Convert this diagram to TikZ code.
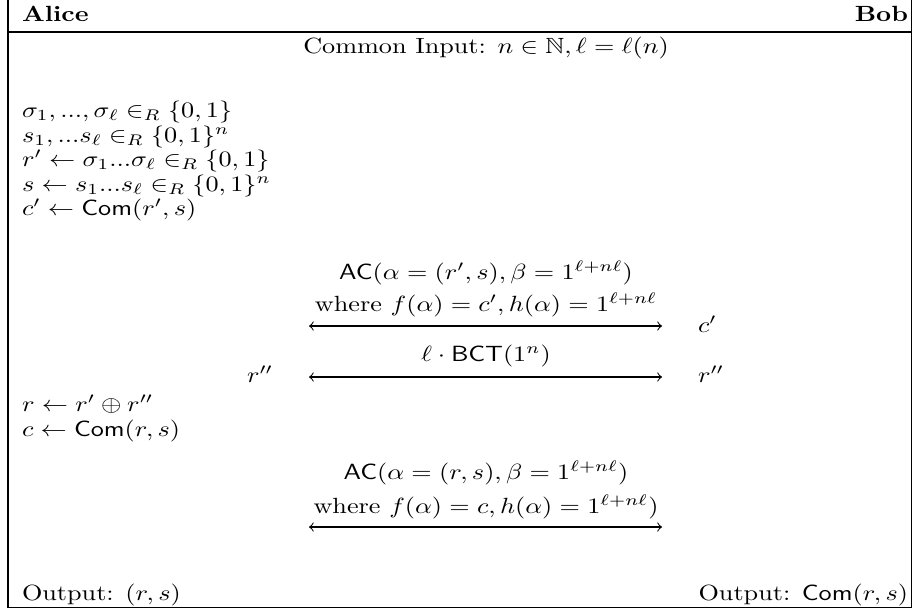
\documentclass[tikz,border=0pt]{standalone}
\usepackage{amsmath,amssymb}
\newcommand{\mycom}{\mathsf{Com}}
\begin{document}
\begin{tikzpicture}[x=0.38168pt,y=-0.38168pt,
  txt/.style={inner sep=0pt, outer sep=0pt, yscale=0.84},
  lft/.style={txt, anchor=base west},
  rgt/.style={txt, anchor=base east},
  mid/.style={txt, anchor=base},
  msg/.style={<->}]
\useasboundingbox (0,0) rectangle (913,609);
\draw (8,-5) rectangle (911,607);
\draw (8,32) -- (911,32);
\node[lft] (alice) at (22,21) {\textbf{Alice}};
\node[rgt] (bob) at (908,21) {\textbf{Bob}};
\node[mid] (common) at (486,53) {Common Input: $n\in\mathbb{N},\ell=\ell(n)$};
\node[lft] (l1) at (22,117) {$\sigma_1, ..., \sigma_\ell \in_R \{0,1\}$};
\node[lft] (l2) at (22,142) {$s_1, ...s_\ell \in_R \{0,1\}^n$};
\node[lft] (l3) at (22,166.5) {$r' \leftarrow \sigma_1 ... \sigma_\ell \in_R \{0,1\}$};
\node[lft] (l4) at (22,191) {$s \leftarrow s_1 ... s_\ell \in_R \{0,1\}^n$};
\node[lft] (l5) at (22,215.5) {$c' \leftarrow \mycom(r', s)$};
% first message
\node[mid] (ac1) at (486,279) {$\mathsf{AC}(\alpha = (r', s), \beta = 1^{\ell + n\ell})$};
\node[mid] (wh1) at (486,311) {where $f(\alpha) = c', h(\alpha) = 1^{\ell + n\ell}$};
\coordinate (m1l) at (309,326);
\coordinate (m1r) at (662,326);
\draw[msg] (m1l) -- (m1r);
\node[lft] (cpb) at (698,332) {$c'$};
% second message
\node[mid] (bct) at (486,361) {$\ell \cdot \mathsf{BCT}(1^n)$};
\coordinate (m2l) at (309,377);
\coordinate (m2r) at (662,377);
\draw[msg] (m2l) -- (m2r);
\node[lft] (rppa) at (247,382) {$r''$};
\node[lft] (rppb) at (698,382) {$r''$};
\node[lft] (l6) at (22,411) {$r \leftarrow r' \oplus r''$};
\node[lft] (l7) at (22,436) {$c \leftarrow \mycom(r, s)$};
% third message
\node[mid] (ac2) at (486,479) {$\mathsf{AC}(\alpha = (r, s), \beta = 1^{\ell + n\ell})$};
\node[mid] (wh2) at (486,513) {where $f(\alpha) = c, h(\alpha) = 1^{\ell + n\ell})$};
\coordinate (m3l) at (309,527);
\coordinate (m3r) at (662,527);
\draw[msg] (m3l) -- (m3r);
% outputs
\node[lft] (outa) at (22,600) {Output: $(r, s)$};
\node[rgt] (outb) at (908,600) {Output: $\mycom(r, s)$};
\end{tikzpicture}
\end{document}
